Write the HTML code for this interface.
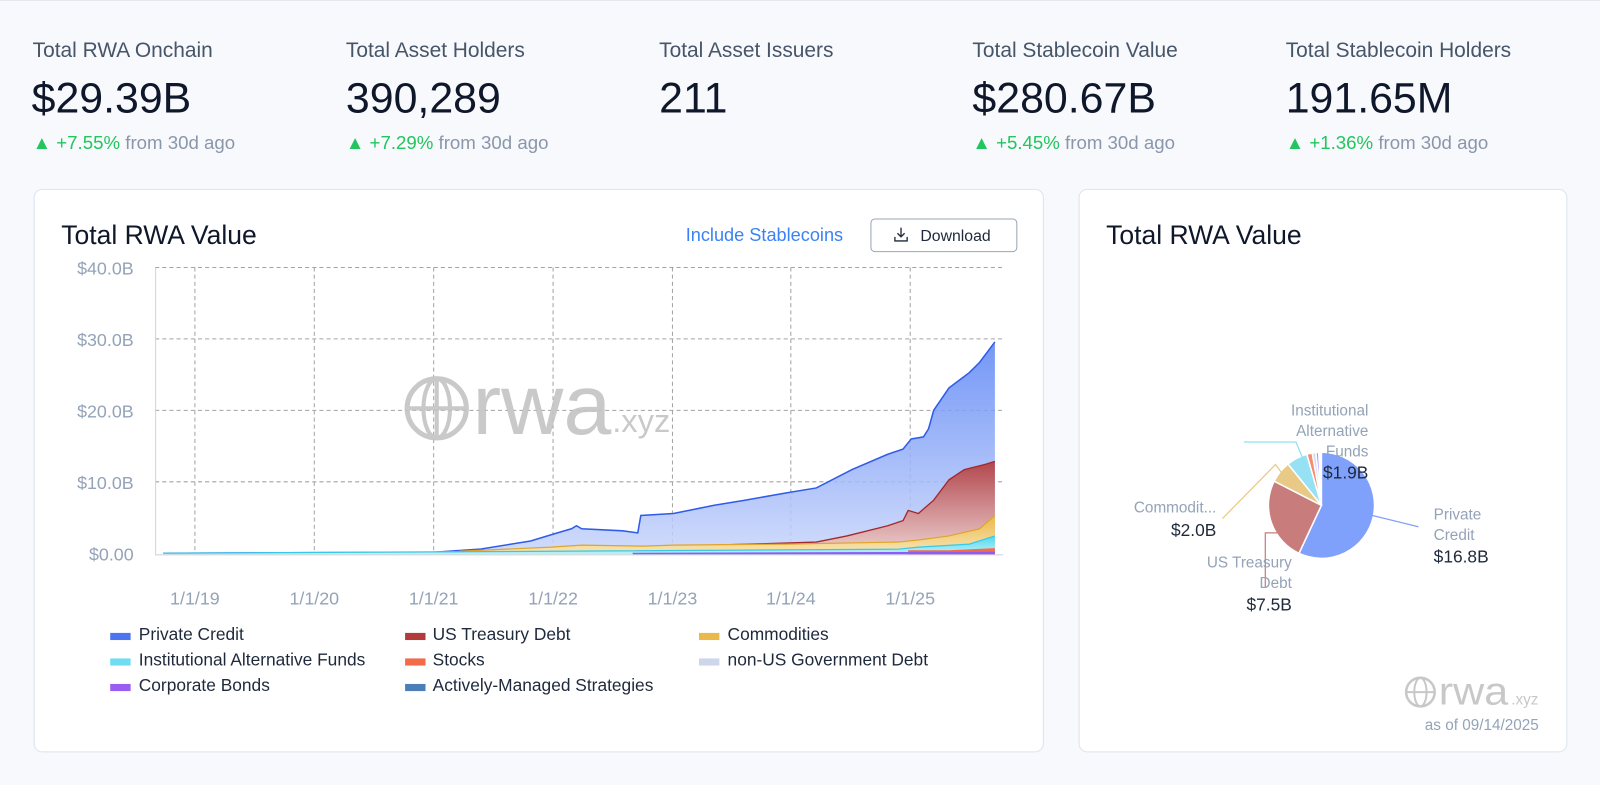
<!DOCTYPE html>
<html><head><meta charset="utf-8"><style>
html,body{margin:0;padding:0;background:#f7f9fc;}
svg{display:block;}
text{font-family:"Liberation Sans",sans-serif;}
</style></head><body>
<svg width="1600" height="785" viewBox="0 0 1568 769" preserveAspectRatio="none" xmlns="http://www.w3.org/2000/svg">
<defs>
<linearGradient id="gb" x1="0" y1="0" x2="0" y2="1"><stop offset="0" stop-color="#5b84f5"/><stop offset="1" stop-color="#c9d6fb"/></linearGradient>
<linearGradient id="gr" x1="0" y1="0" x2="0" y2="1"><stop offset="0" stop-color="#b33a3a"/><stop offset="1" stop-color="#f0d0cc"/></linearGradient>
<linearGradient id="gy" x1="0" y1="0" x2="0" y2="1"><stop offset="0" stop-color="#eab94a"/><stop offset="1" stop-color="#f8e6b8"/></linearGradient>
<linearGradient id="gc" x1="0" y1="0" x2="0" y2="1"><stop offset="0" stop-color="#4fd8f0"/><stop offset="1" stop-color="#bff0f8"/></linearGradient>
</defs>
<rect x="0" y="0" width="1568" height="769" fill="#f7f9fc"/>
<line x1="0" y1="0.5" x2="1568" y2="0.5" stroke="#e3e8ef"/>
<g font-size="20.5" fill="#475569">
<text x="32" y="56">Total RWA Onchain</text>
<text x="339" y="56">Total Asset Holders</text>
<text x="646" y="56">Total Asset Issuers</text>
<text x="953" y="56">Total Stablecoin Value</text>
<text x="1260" y="56">Total Stablecoin Holders</text>
</g>
<g font-size="42" fill="#0f172a">
<text x="31" y="110">$29.39B</text>
<text x="339" y="110">390,289</text>
<text x="646" y="110">211</text>
<text x="953" y="110">$280.67B</text>
<text x="1260" y="110">191.65M</text>
</g>
<g font-size="18.3">
<text x="32" y="146"><tspan fill="#22c55e">▲ +7.55%</tspan><tspan fill="#8a97ab"> from 30d ago</tspan></text>
<text x="339" y="146"><tspan fill="#22c55e">▲ +7.29%</tspan><tspan fill="#8a97ab"> from 30d ago</tspan></text>
<text x="953" y="146"><tspan fill="#22c55e">▲ +5.45%</tspan><tspan fill="#8a97ab"> from 30d ago</tspan></text>
<text x="1260" y="146"><tspan fill="#22c55e">▲ +1.36%</tspan><tspan fill="#8a97ab"> from 30d ago</tspan></text>
</g>
<rect x="33.5" y="185.5" width="989" height="551" rx="8" fill="#fff" stroke="#dbe4f0"/>
<rect x="1057.5" y="185.5" width="478" height="551" rx="8" fill="#fff" stroke="#dbe4f0"/>
<text x="60" y="239" font-size="26" fill="#0f172a">Total RWA Value</text>
<text x="1084" y="239" font-size="26" fill="#0f172a">Total RWA Value</text>
<text x="672" y="236" font-size="17.8" fill="#3b82f6">Include Stablecoins</text>
<rect x="853.5" y="214.5" width="143" height="32" rx="4" fill="#fff" stroke="#9aa5b4"/>
<g stroke="#1e293b" stroke-width="1.3" fill="none"><path d="M883 223v9M879.5 228.5l3.5 3.5 3.5-3.5M877 232v4h12v-4"/></g>
<text x="902" y="236" font-size="15.5" fill="#1e293b">Download</text>
<g stroke="#a3a3a3" stroke-dasharray="4,3" stroke-width="1">
<line x1="152" y1="262" x2="983" y2="262"/><line x1="152" y1="332" x2="983" y2="332"/>
<line x1="152" y1="402" x2="983" y2="402"/><line x1="152" y1="472" x2="983" y2="472"/>
<line x1="191" y1="262" x2="191" y2="542"/><line x1="308" y1="262" x2="308" y2="542"/>
<line x1="425" y1="262" x2="425" y2="542"/><line x1="542" y1="262" x2="542" y2="542"/>
<line x1="659" y1="262" x2="659" y2="542"/><line x1="775" y1="262" x2="775" y2="542"/>
<line x1="892" y1="262" x2="892" y2="542"/>
</g>
<line x1="152.5" y1="262" x2="152.5" y2="543" stroke="#cbd5e1"/>
<line x1="152" y1="543.5" x2="983" y2="543.5" stroke="#cbd5e1"/>
<g font-size="17.5" fill="#94a3b8" text-anchor="end">
<text x="131" y="269">$40.0B</text><text x="131" y="339">$30.0B</text><text x="131" y="409">$20.0B</text><text x="131" y="479">$10.0B</text><text x="131" y="549">$0.00</text>
</g>
<g font-size="17.5" fill="#94a3b8" text-anchor="middle">
<text x="191" y="592">1/1/19</text><text x="308" y="592">1/1/20</text><text x="425" y="592">1/1/21</text><text x="542" y="592">1/1/22</text><text x="659" y="592">1/1/23</text><text x="775" y="592">1/1/24</text><text x="892" y="592">1/1/25</text>
</g>
<g opacity="0.9">
<circle cx="428" cy="400" r="29" fill="none" stroke="#c4c4c4" stroke-width="5"/>
<ellipse cx="428" cy="400" rx="13" ry="29" fill="none" stroke="#c4c4c4" stroke-width="4"/>
<line x1="399" y1="400" x2="457" y2="400" stroke="#c4c4c4" stroke-width="4"/>
<line x1="428" y1="371" x2="428" y2="429" stroke="#c4c4c4" stroke-width="4"/>
<text x="463" y="425" font-size="84" fill="#c4c4c4" textLength="136" lengthAdjust="spacingAndGlyphs">rwa</text>
<text x="600" y="423" font-size="32" fill="#c4c4c4">.xyz</text>
</g>
<path d="M160 542 L425 541 L470 538 L520 530 L543 523 L560 518 L565 515 L570 518 L610 520 L625 522 L628 505 L660 503 L700 495 L730 490 L770 483 L800 478 L835 460 L870 445 L885 440 L893 430 L905 428 L910 420 L915 402 L930 380 L950 365 L960 355 L975 335 L975 543 L160 543Z" fill="url(#gb)" opacity="0.85"/>
<path d="M160 542 L425 541 L470 538 L520 530 L543 523 L560 518 L565 515 L570 518 L610 520 L625 522 L628 505 L660 503 L700 495 L730 490 L770 483 L800 478 L835 460 L870 445 L885 440 L893 430 L905 428 L910 420 L915 402 L930 380 L950 365 L960 355 L975 335" fill="none" stroke="#2f5bea" stroke-width="1.5"/>
<path d="M160 542 L425 541 L540 540 L600 538 L660 535 L700 534 L770 532 L800 531 L830 525 L870 515 L885 510 L890 500 L900 503 L915 490 L930 470 L945 460 L965 455 L975 452 L975 543 L160 543Z" fill="url(#gr)" opacity="0.9"/>
<path d="M425 541 L540 540 L600 538 L660 535 L700 534 L770 532 L800 531 L830 525 L870 515 L885 510 L890 500 L900 503 L915 490 L930 470 L945 460 L965 455 L975 452" fill="none" stroke="#a52828" stroke-width="1.3"/>
<path d="M160 542 L450 540 L540 536 L570 534 L630 535 L660 534 L770 533 L880 531 L900 529 L930 525 L960 518 L975 505 L975 543 L160 543Z" fill="url(#gy)"/>
<path d="M450 540 L540 536 L570 534 L630 535 L660 534 L770 533 L880 531 L900 529 L930 525 L960 518 L975 505" fill="none" stroke="#e0a52a" stroke-width="1.2"/>
<path d="M160 542 L540 540 L880 538 L900 536 L950 533 L975 525 L975 543 L160 543Z" fill="url(#gc)"/>
<path d="M160 542 L540 540 L880 538 L900 536 L950 533 L975 525" fill="none" stroke="#38c8e8" stroke-width="1.2"/>
<path d="M890 543 L890 539 L930 539 L975 537 L975 543Z" fill="#f26b4b"/>
<path d="M620 543 L620 541.5 L975 540.5 L975 543Z" fill="#8b5cf6"/>
<g font-size="17" fill="#1e293b">
<rect x="108" y="620" width="20" height="7" fill="#4d74f0"/><text x="136" y="627">Private Credit</text>
<rect x="397" y="620" width="20" height="7" fill="#b33a3a"/><text x="424" y="627">US Treasury Debt</text>
<rect x="685" y="620" width="20" height="7" fill="#eab94a"/><text x="713" y="627">Commodities</text>
<rect x="108" y="645" width="20" height="7" fill="#6fdcf2"/><text x="136" y="652">Institutional Alternative Funds</text>
<rect x="397" y="645" width="20" height="7" fill="#f26b4b"/><text x="424" y="652">Stocks</text>
<rect x="685" y="645" width="20" height="7" fill="#cdd6ea"/><text x="713" y="652">non-US Government Debt</text>
<rect x="108" y="670" width="20" height="7" fill="#9b5cf0"/><text x="136" y="677">Corporate Bonds</text>
<rect x="397" y="670" width="20" height="7" fill="#4a7fb8"/><text x="424" y="677">Actively-Managed Strategies</text>
</g>
<g stroke="#fff" stroke-width="1.5">
<path d="M1295 495 L1295 443 A52 52 0 1 1 1273 542.1Z" fill="#7fa0fb"/>
<path d="M1295 495 L1273 542.1 A52 52 0 0 1 1248.7 471.4Z" fill="#c97c7c"/>
<path d="M1295 495 L1248.7 471.4 A52 52 0 0 1 1262.3 454.6Z" fill="#e8c985"/>
<path d="M1295 495 L1262.3 454.6 A52 52 0 0 1 1280.7 445Z" fill="#97e1f4"/>
<path d="M1295 495 L1280.7 445 A52 52 0 0 1 1286 443.8Z" fill="#f58c70"/>
<path d="M1295 495 L1286 443.8 A52 52 0 0 1 1289.6 443.3Z" fill="#d5dcec"/>
<path d="M1295 495 L1289.6 443.3 A52 52 0 0 1 1292.3 443.1Z" fill="#b08af5"/>
</g>
<g fill="none" stroke-width="1.2">
<path d="M1219 433 L1270 433 L1278 452" stroke="#8ee0f3"/>
<path d="M1198 508 L1250 455 L1258 466" stroke="#e8c985"/>
<path d="M1263 522 L1240 522 L1240 575" stroke="#c97c7c"/>
<path d="M1345 505 L1390 516" stroke="#7fa0fb"/>
</g>
<g font-size="15" text-anchor="end" fill="#94a3b8">
<text x="1341" y="407">Institutional</text><text x="1341" y="427">Alternative</text><text x="1341" y="447">Funds</text>
<text x="1341" y="469" font-size="17" fill="#1e293b">$1.9B</text>
<text x="1192" y="502">Commodit...</text><text x="1192" y="525" font-size="17" fill="#1e293b">$2.0B</text>
<text x="1266" y="556">US Treasury</text><text x="1266" y="576">Debt</text><text x="1266" y="598" font-size="17" fill="#1e293b">$7.5B</text>
</g>
<g font-size="15" fill="#94a3b8">
<text x="1405" y="509">Private</text><text x="1405" y="529">Credit</text><text x="1405" y="551" font-size="17" fill="#1e293b">$16.8B</text>
</g>
<g>
<circle cx="1392" cy="678" r="14" fill="none" stroke="#c8c8c8" stroke-width="2.5"/>
<ellipse cx="1392" cy="678" rx="6" ry="14" fill="none" stroke="#c8c8c8" stroke-width="2"/>
<line x1="1378" y1="678" x2="1406" y2="678" stroke="#c8c8c8" stroke-width="2"/>
<text x="1410" y="690" font-size="38" fill="#c8c8c8" textLength="68" lengthAdjust="spacingAndGlyphs">rwa</text>
<text x="1481" y="690" font-size="15" fill="#c8c8c8">.xyz</text>
<text x="1508" y="715" font-size="15" fill="#94a3b8" text-anchor="end">as of 09/14/2025</text>
</g>
</svg>
</body></html>
